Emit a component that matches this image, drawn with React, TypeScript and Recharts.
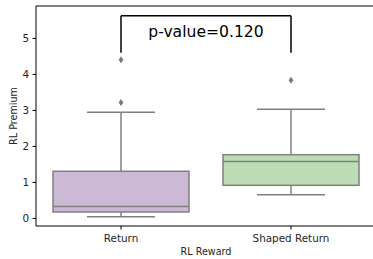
import { Bar, ComposedChart, ReferenceLine, Scatter, XAxis, YAxis } from 'recharts'

// box statistics
const categories = ['Return', 'Shaped Return']
const q1 = [0.18, 0.92]
const medians = [0.33, 1.58]
const q3 = [1.31, 1.77]
const whiskerLow = [0.045, 0.66]
const whiskerHigh = [2.95, 3.03]
const boxFills = ['#cbb9d6', '#bddcb5']

const outlierCats = ['Return', 'Return', 'Shaped Return']
const outlierValues = [3.22, 4.41, 3.84]

const yTicks = [0, 1, 2, 3, 4, 5]
const bracketLow = 4.6
const bracketHigh = 5.63
const pLabel = 'p-value=0.120'

const boxData = categories.map((name, i) => ({
  name,
  box: [q1[i], q3[i]],
  q1: q1[i],
  med: medians[i],
  q3: q3[i],
  lo: whiskerLow[i],
  hi: whiskerHigh[i],
  fill: boxFills[i],
}))

const outliers = outlierCats.map((name, i) => ({ name, value: outlierValues[i] }))

const LINE = '#808080'
const FONT = '"DejaVu Sans"'

function BoxShape(props: any) {
  const { x, y, width, height, payload } = props
  if (!payload) return null
  const top = Math.min(y, y + height)
  const h = Math.abs(height)
  // pixels per unit from the bar's own scaled extent
  const ppu = h / (payload.q3 - payload.q1)
  const py = (v: number) => top + (payload.q3 - v) * ppu
  const cx = x + width / 2
  const cap = width / 4
  return (
    <g stroke={LINE} strokeWidth={1.5}>
      <line x1={cx} x2={cx} y1={py(payload.q3)} y2={py(payload.hi)} />
      <line x1={cx} x2={cx} y1={py(payload.q1)} y2={py(payload.lo)} />
      <line x1={cx - cap} x2={cx + cap} y1={py(payload.hi)} y2={py(payload.hi)} />
      <line x1={cx - cap} x2={cx + cap} y1={py(payload.lo)} y2={py(payload.lo)} />
      <rect x={x} y={top} width={width} height={h} fill={payload.fill} />
      <line x1={x} x2={x + width} y1={py(payload.med)} y2={py(payload.med)} />
    </g>
  )
}

function Diamond(props: any) {
  const { cx, cy } = props
  if (cx == null || cy == null) return null
  return (
    <path
      d={`M${cx},${cy - 3.5}L${cx + 2.3},${cy}L${cx},${cy + 3.5}L${cx - 2.3},${cy}Z`}
      fill="#787878"
    />
  )
}

export default function App() {
  return (
    <div
      style={{
        position: 'absolute',
        left: 0,
        top: 0,
        width: 373,
        height: 259,
        overflow: 'hidden',
        background: '#fff',
      }}
    >
      <ComposedChart
        width={380}
        height={259}
        data={boxData}
        margin={{ top: 6, right: 4, bottom: 0, left: 0 }}
      >
        <XAxis
          dataKey="name"
          allowDuplicatedCategory={false}
          height={33}
          tickSize={3.5}
          tickMargin={5}
          stroke="#000"
          tick={{ fill: '#262626', fontSize: 10.4, fontFamily: FONT }}
          label={{
            content: () => (
              <text x={206} y={254.5} textAnchor="middle" fontSize={9.6} fontFamily={FONT} fill="#262626">
                RL Reward
              </text>
            ),
          }}
        />
        <YAxis
          type="number"
          domain={[-0.21, 5.9]}
          allowDataOverflow
          ticks={yTicks}
          width={36}
          tickSize={3.5}
          tickMargin={3.5}
          stroke="#000"
          tick={{ fill: '#262626', fontSize: 10.4, fontFamily: FONT }}
          label={{
            content: () => (
              <text
                x={13}
                y={116}
                transform="rotate(-90 13 116)"
                textAnchor="middle"
                dominantBaseline="central"
                fontSize={9.6}
                fontFamily={FONT}
                fill="#262626"
              >
                RL Premium
              </text>
            ),
          }}
        />
        <ReferenceLine y={5.9} stroke="#000" strokeWidth={1} ifOverflow="visible" />
        <Bar dataKey="box" barSize={136} shape={BoxShape} isAnimationActive={false} />
        <Scatter data={outliers} dataKey="value" shape={Diamond} isAnimationActive={false} />
        <ReferenceLine
          segment={[
            { x: categories[0], y: bracketLow },
            { x: categories[0], y: bracketHigh },
          ]}
          stroke="#000"
          strokeWidth={1.5}
        />
        <ReferenceLine
          segment={[
            { x: categories[1], y: bracketLow },
            { x: categories[1], y: bracketHigh },
          ]}
          stroke="#000"
          strokeWidth={1.5}
        />
        <ReferenceLine
          segment={[
            { x: categories[0], y: bracketHigh },
            { x: categories[1], y: bracketHigh },
          ]}
          stroke="#000"
          strokeWidth={1.5}
          label={{
            content: (p: any) => {
              const vb = p.viewBox || {}
              const cx = (vb.x ?? 121) + (vb.width ?? 170) / 2
              const ly = (vb.y ?? 16) + 21
              return (
                <text x={cx} y={ly} textAnchor="middle" fontSize={15.6} fontFamily={FONT} fill="#000">
                  {pLabel}
                </text>
              )
            },
          }}
        />
      </ComposedChart>
    </div>
  )
}
